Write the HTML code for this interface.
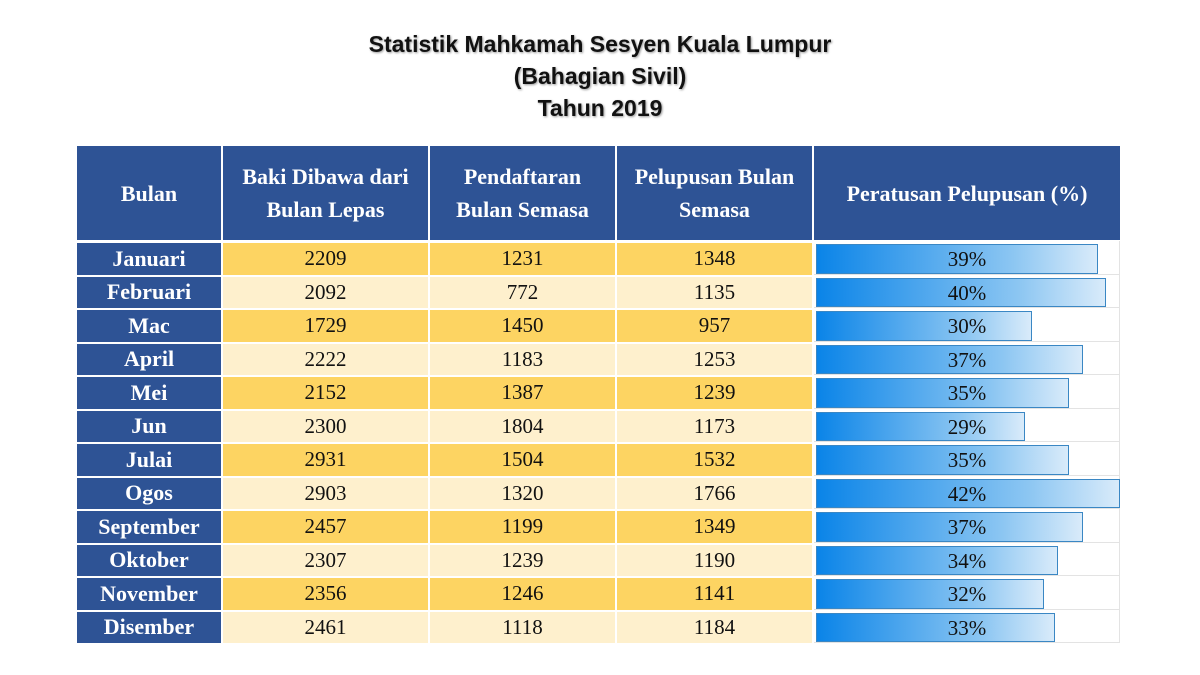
<!DOCTYPE html>
<html><head><meta charset="utf-8"><style>
body{margin:0;width:1200px;height:675px;background:#fff;position:relative;overflow:hidden;font-family:"Liberation Serif",serif}
.t{position:absolute;left:0;width:1200px;text-align:center;font-family:"Liberation Sans",sans-serif;font-size:23px;font-weight:bold;color:#111;text-shadow:1px 1px 2px #999}
.c{position:absolute;display:flex;align-items:center;justify-content:center;text-align:center;box-sizing:border-box}
.h{background:#2E5395;color:#fff;font-weight:bold;font-size:22px;line-height:33px}
.m{background:#2E5395;color:#fff;font-weight:bold;font-size:22px}
.n{font-size:21px;color:#111}
.g{background:#FDD462}.l{background:#FEF0CD}
.w{background:#fff;border-bottom:1px solid #e3e3e3;border-right:1px solid #e3e3e3}
.b{position:absolute;left:816px;box-sizing:border-box;border:1px solid #3a87c4;background:linear-gradient(to right,#0a84e8,#8cc6f2 70%,#d9ebfa)}
.p{position:absolute;left:814px;width:306px;text-align:center;font-size:21px;color:#111}
</style></head><body>
<div class="t" style="top:31px">Statistik Mahkamah Sesyen Kuala Lumpur</div>
<div class="t" style="top:63px">(Bahagian Sivil)</div>
<div class="t" style="top:95px">Tahun 2019</div>

<div class="c h" style="left:77px;top:146px;width:144px;height:94px">Bulan</div>
<div class="c h" style="left:223px;top:146px;width:205px;height:94px">Baki Dibawa dari<br>Bulan Lepas</div>
<div class="c h" style="left:430px;top:146px;width:185px;height:94px">Pendaftaran<br>Bulan Semasa</div>
<div class="c h" style="left:617px;top:146px;width:195px;height:94px">Pelupusan Bulan<br>Semasa</div>
<div class="c h" style="left:814px;top:146px;width:306px;height:94px">Peratusan Pelupusan (%)</div>

<div id="rows"></div>
<script>
var d=[["Januari",2209,1231,1348,39,1098],["Februari",2092,772,1135,40,1106],["Mac",1729,1450,957,30,1032],["April",2222,1183,1253,37,1083],["Mei",2152,1387,1239,35,1069],["Jun",2300,1804,1173,29,1025],["Julai",2931,1504,1532,35,1069],["Ogos",2903,1320,1766,42,1120],["September",2457,1199,1349,37,1083],["Oktober",2307,1239,1190,34,1058],["November",2356,1246,1141,32,1044],["Disember",2461,1118,1184,33,1055]];
var h="";
d.forEach(function(r,i){
var y=243+i*33.5,hh=31.5,cl=i%2?"l":"g";
h+='<div class="c m" style="left:77px;top:'+y+'px;width:144px;height:'+hh+'px">'+r[0]+'</div>';
h+='<div class="c n '+cl+'" style="left:223px;top:'+y+'px;width:205px;height:'+hh+'px">'+r[1]+'</div>';
h+='<div class="c n '+cl+'" style="left:430px;top:'+y+'px;width:185px;height:'+hh+'px">'+r[2]+'</div>';
h+='<div class="c n '+cl+'" style="left:617px;top:'+y+'px;width:195px;height:'+hh+'px">'+r[3]+'</div>';
h+='<div class="c w" style="left:814px;top:'+(y-2)+'px;width:306px;height:33.5px"></div>';
h+='<div class="b" style="top:'+(y+1)+'px;height:29.5px;width:'+(r[5]-816)+'px"></div>';
h+='<div class="p" style="top:'+(y+3)+'px;line-height:26px">'+r[4]+'%</div>';
});
document.getElementById("rows").innerHTML=h;
</script>
</body></html>
